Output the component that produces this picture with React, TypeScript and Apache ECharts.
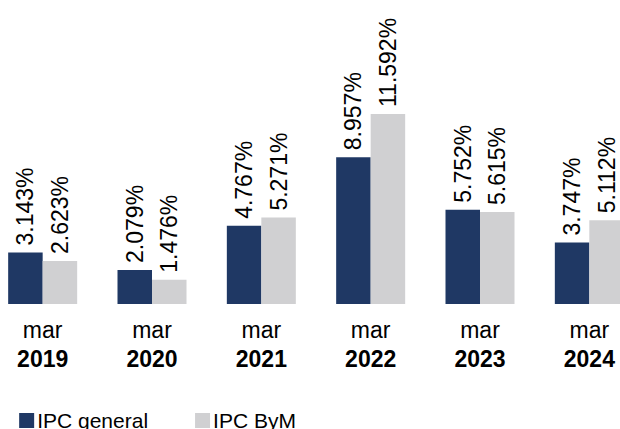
import React, { useEffect, useRef } from "react";
import * as echarts from "echarts";

const months: string[] = ["mar", "mar", "mar", "mar", "mar", "mar"];
const years: string[] = ["2019", "2020", "2021", "2022", "2023", "2024"];
const ipcGeneral: number[] = [3.143, 2.079, 4.767, 8.957, 5.752, 3.747];
const ipcByM: number[] = [2.623, 1.476, 5.271, 11.592, 5.615, 5.112];
const seriesNames: string[] = ["IPC general", "IPC ByM"];

const FONT = "'Liberation Sans', Arial, Helvetica, sans-serif";
const SHIFT = 12.15;

export default function App() {
  const ref = useRef<HTMLDivElement>(null);

  useEffect(() => {
    document.body.style.margin = "0";
    document.body.style.overflow = "hidden";
    if (!ref.current) return;
    const chart = echarts.init(ref.current, undefined, { renderer: "svg" });
    const categories = years.map((y, i) => `${months[i]}\n{b|${y}}`);
    const label = {
      show: true,
      position: "top" as const,
      rotate: 90,
      align: "left" as const,
      verticalAlign: "middle" as const,
      distance: 7,
      fontFamily: FONT,
      fontSize: 23,
      color: "#000",
      formatter: (p: any) => `${Number(p.value).toFixed(3)}%`,
    };
    chart.setOption({
      animation: false,
      textStyle: { fontFamily: FONT },
      grid: { left: 0, right: 0, top: 107.3, height: 196.7, containLabel: false },
      legend: {
        data: seriesNames,
        left: 19 + SHIFT,
        top: 410,
        padding: 0,
        icon: "rect",
        itemWidth: 15,
        itemHeight: 15,
        itemGap: 47,
        textStyle: { fontFamily: FONT, fontSize: 21, color: "#000", padding: [0, 0, 0, -2] },
      },
      xAxis: {
        type: "category",
        data: categories,
        axisLine: { show: false },
        axisTick: { show: false },
        axisLabel: {
          margin: 11,
          interval: 0,
          fontFamily: FONT,
          fontSize: 23,
          lineHeight: 29,
          color: "#000",
          rich: {
            b: { fontFamily: FONT, fontSize: 23, fontWeight: "bold", lineHeight: 29, color: "#000" },
          },
        },
      },
      yAxis: {
        type: "value",
        min: 0,
        max: 12,
        show: false,
        splitLine: { show: false },
      },
      series: [
        {
          name: seriesNames[0],
          type: "bar",
          data: ipcGeneral,
          barWidth: 34.5,
          barGap: "0%",
          itemStyle: { color: "#1F3864" },
          label,
        },
        {
          name: seriesNames[1],
          type: "bar",
          data: ipcByM,
          barWidth: 34.5,
          barGap: "0%",
          itemStyle: { color: "#D0D0D2" },
          label,
        },
      ],
    });
    return () => chart.dispose();
  }, []);

  return (
    <div style={{ position: "absolute", left: 0, top: 0, width: 620, height: 429, overflow: "hidden", background: "#fff" }}>
      <div
        ref={ref}
        style={{ position: "absolute", left: -SHIFT, top: 0, width: 655.8, height: 429 }}
      />
    </div>
  );
}
